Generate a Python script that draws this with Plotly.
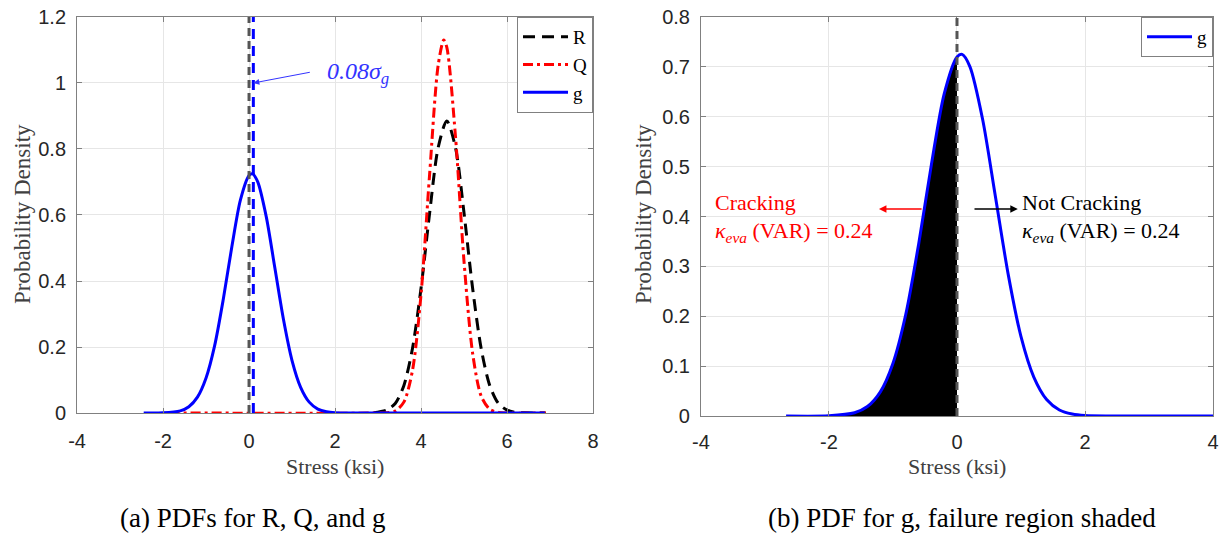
import plotly.graph_objects as go

# ---- panel (a): PDFs of resistance R, load effect Q and limit state g ----
r_stress = [2.9, 3.2, 3.4, 3.6, 3.8, 4.0, 4.2, 4.4, 4.6, 4.8, 5.0, 5.2, 5.4, 5.6, 5.8, 6.0, 6.2, 6.4, 6.9]
r_density = [0.001, 0.009, 0.029, 0.083, 0.195, 0.378, 0.606, 0.805, 0.885, 0.805, 0.606, 0.378, 0.195,
             0.083, 0.029, 0.009, 0.002, 0.0005, 0.0]

q_stress = [-1.85, 3.0, 3.2, 3.4, 3.6, 3.8, 4.0, 4.2, 4.4, 4.53, 4.6, 4.8, 5.0, 5.2, 5.4, 5.6, 5.8, 6.0, 6.9]
q_density = [0.0, 0.0, 0.001, 0.006, 0.033, 0.128, 0.359, 0.724, 1.055, 1.13, 1.108, 0.84, 0.459, 0.181,
             0.051, 0.011, 0.002, 0.0, 0.0]

# limit state g = R - Q (shared core, each panel has its own sampled extent)
g_stress_core = [-2.0, -1.6, -1.4, -1.2, -1.0, -0.8, -0.6, -0.4, -0.2, 0.0, 0.08, 0.2, 0.4, 0.6, 0.8,
                 1.0, 1.2, 1.4, 1.6, 1.8, 2.0, 2.4]
g_density_core = [0.0005, 0.0065, 0.019, 0.048, 0.106, 0.204, 0.344, 0.504, 0.646, 0.72, 0.725, 0.701,
                  0.595, 0.44, 0.284, 0.159, 0.078, 0.033, 0.012, 0.004, 0.001, 0.0]
g_start_a, g_end_a = -2.45, 6.88
g_start_b, g_end_b = -2.67, 4.2

g_mean_line = 0.1        # location marked 0.08 sigma_g
limit_state = 0.0        # g = 0 boundary

# ---- tick labels ----
x_ticks_a = [-4, -2, 0, 2, 4, 6, 8]
x_ticklabels_a = ["-4", "-2", "0", "2", "4", "6", "8"]
y_ticks_a = [0, 0.2, 0.4, 0.6, 0.8, 1.0, 1.2]
y_ticklabels_a = ["0", "0.2", "0.4", "0.6", "0.8", "1", "1.2"]
x_ticks_b = [-4, -2, 0, 2, 4]
x_ticklabels_b = ["-4", "-2", "0", "2", "4"]
y_ticks_b = [0, 0.1, 0.2, 0.3, 0.4, 0.5, 0.6, 0.7, 0.8]
y_ticklabels_b = ["0", "0.1", "0.2", "0.3", "0.4", "0.5", "0.6", "0.7", "0.8"]

SERIF = "Liberation Serif, Times New Roman, serif"
SANS = "Liberation Sans, Arial, sans-serif"
BLUE = "#0000ff"
RED = "#ff0000"

ga_x = [g_start_a] + g_stress_core + [g_end_a]
ga_y = [0.0] + g_density_core + [0.0]
gb_x = [g_start_b] + g_stress_core + [g_end_b]
gb_y = [0.0] + g_density_core + [0.0]
fail_x = [x for x in gb_x if x <= limit_state]
fail_y = [y for x, y in zip(gb_x, gb_y) if x <= limit_state]

fig = go.Figure()

fig.add_trace(go.Scatter(x=r_stress, y=r_density, name="R", mode="lines",
                         line=dict(color="black", width=3, dash="12px,7px", shape="spline", smoothing=0.8),
                         xaxis="x", yaxis="y", legend="legend"))
fig.add_trace(go.Scatter(x=q_stress, y=q_density, name="Q", mode="lines",
                         line=dict(color=RED, width=3, dash="10px,4px,3px,4px", shape="spline", smoothing=0.8),
                         xaxis="x", yaxis="y", legend="legend"))
fig.add_trace(go.Scatter(x=ga_x, y=ga_y, name="g", mode="lines",
                         line=dict(color=BLUE, width=3, shape="spline", smoothing=0.8),
                         xaxis="x", yaxis="y", legend="legend"))

# panel (b): failure region shaded
fig.add_trace(go.Scatter(x=fail_x, y=fail_y, mode="lines", fill="tozeroy", fillcolor="black",
                         line=dict(color="black", width=0.5, shape="spline", smoothing=0.8),
                         showlegend=False, hoverinfo="skip", xaxis="x2", yaxis="y2"))
fig.add_trace(go.Scatter(x=gb_x, y=gb_y, name="g", mode="lines",
                         line=dict(color=BLUE, width=3, shape="spline", smoothing=0.8),
                         xaxis="x2", yaxis="y2", legend="legend2"))

axis_common = dict(showline=True, linecolor="#808080", linewidth=1, mirror="ticks",
                   ticks="inside", ticklen=5, tickcolor="#808080", automargin=False,
                   showgrid=True, gridcolor="#e6e6e6", gridwidth=1, zeroline=False,
                   tickfont=dict(family=SANS, size=20, color="#262626"))

fig.update_layout(
    template="none",
    width=1227, height=557,
    margin=dict(l=0, r=0, t=0, b=0),
    paper_bgcolor="white", plot_bgcolor="white",
    xaxis=dict(domain=[0.0628, 0.4833], range=[-4, 8], tickvals=x_ticks_a, ticktext=x_ticklabels_a,
               anchor="y", ticklabelstandoff=10, **axis_common),
    yaxis=dict(domain=[0.2585, 0.9695], range=[0, 1.2], tickvals=y_ticks_a, ticktext=y_ticklabels_a,
               anchor="x", ticklabelstandoff=6, **axis_common),
    xaxis2=dict(domain=[0.5713, 0.9886], range=[-4, 4], tickvals=x_ticks_b, ticktext=x_ticklabels_b,
                anchor="y2", ticklabelstandoff=8, **axis_common),
    yaxis2=dict(domain=[0.2531, 0.9695], range=[0, 0.8], tickvals=y_ticks_b, ticktext=y_ticklabels_b,
                anchor="x2", ticklabelstandoff=6, **axis_common),
    legend=dict(x=0.4833, y=0.9695, xanchor="right", yanchor="top", bgcolor="white",
                bordercolor="#808080", borderwidth=1, itemwidth=45,
                font=dict(family=SERIF, size=19, color="black"), tracegroupgap=0),
    legend2=dict(x=0.9886, y=0.9695, xanchor="right", yanchor="top", bgcolor="white",
                 bordercolor="#808080", borderwidth=1, itemwidth=45,
                 font=dict(family=SERIF, size=19, color="black")),
)

# vertical reference lines
fig.add_shape(type="line", xref="x", yref="y domain", x0=limit_state, x1=limit_state, y0=0, y1=1,
              line=dict(color="#555555", width=3, dash="8px,5px"))
fig.add_shape(type="line", xref="x", yref="y domain", x0=g_mean_line, x1=g_mean_line, y0=0, y1=1,
              line=dict(color=BLUE, width=3, dash="10px,7px"))
fig.add_shape(type="line", xref="x2", yref="y2 domain", x0=limit_state, x1=limit_state, y0=0, y1=1,
              line=dict(color="#555555", width=3, dash="8px,5px"))

mid = dict(xanchor="center", yanchor="middle", showarrow=False)
annotations = [
    # panel (a) marker
    dict(x=g_mean_line, y=1.0, xref="x", yref="y", ax=58, ay=-11, axref="pixel", ayref="pixel",
         showarrow=True, arrowhead=2, arrowsize=1.2, arrowwidth=1, arrowcolor="#3333ff", text=""),
    dict(x=1.77, y=1.03, xref="x", yref="y", xanchor="left", yanchor="middle", showarrow=False,
         text="<i>0.08σ<sub>g</sub></i>", font=dict(family=SERIF, size=24, color="#3333ff")),
    # panel (b) labels
    dict(x=-1.22, y=0.415, xref="x2", yref="y2", ax=-0.53, ay=0.415, axref="x2", ayref="y2",
         showarrow=True, arrowhead=2, arrowsize=1, arrowwidth=1.5, arrowcolor=RED, text=""),
    dict(x=0.95, y=0.415, xref="x2", yref="y2", ax=0.25, ay=0.415, axref="x2", ayref="y2",
         showarrow=True, arrowhead=2, arrowsize=1, arrowwidth=1.5, arrowcolor="black", text=""),
    dict(x=-3.81, y=0.429, xref="x2", yref="y2", xanchor="left", yanchor="middle", showarrow=False,
         text="Cracking", font=dict(family=SERIF, size=22, color=RED)),
    dict(x=-3.81, y=0.369, xref="x2", yref="y2", xanchor="left", yanchor="middle", showarrow=False,
         text="<i>κ<sub>eva</sub></i> (VAR) = 0.24", font=dict(family=SERIF, size=22, color=RED)),
    dict(x=0.98, y=0.429, xref="x2", yref="y2", xanchor="left", yanchor="middle", showarrow=False,
         text="Not Cracking", font=dict(family=SERIF, size=22, color="black")),
    dict(x=0.98, y=0.369, xref="x2", yref="y2", xanchor="left", yanchor="middle", showarrow=False,
         text="<i>κ<sub>eva</sub></i> (VAR) = 0.24", font=dict(family=SERIF, size=22, color="black")),
    # axis titles
    dict(x=335 / 1227, y=1 - 466 / 557, xref="paper", yref="paper", **mid,
         text="Stress (ksi)", font=dict(family=SERIF, size=22, color="#404040")),
    dict(x=957 / 1227, y=1 - 466 / 557, xref="paper", yref="paper", **mid,
         text="Stress (ksi)", font=dict(family=SERIF, size=22, color="#404040")),
    dict(x=22 / 1227, y=1 - 214 / 557, xref="paper", yref="paper", **mid, textangle=-90,
         text="Probability Density", font=dict(family=SERIF, size=23, color="#404040")),
    dict(x=643 / 1227, y=1 - 214 / 557, xref="paper", yref="paper", **mid, textangle=-90,
         text="Probability Density", font=dict(family=SERIF, size=23, color="#404040")),
    # panel captions
    dict(x=252 / 1227, y=1 - 518 / 557, xref="paper", yref="paper", **mid,
         text="(a) PDFs for R, Q, and g", font=dict(family=SERIF, size=27, color="black")),
    dict(x=962 / 1227, y=1 - 518 / 557, xref="paper", yref="paper", **mid,
         text="(b) PDF for g, failure region shaded", font=dict(family=SERIF, size=27, color="black")),
]
fig.update_layout(annotations=annotations)

fig.write_html("out.html")
